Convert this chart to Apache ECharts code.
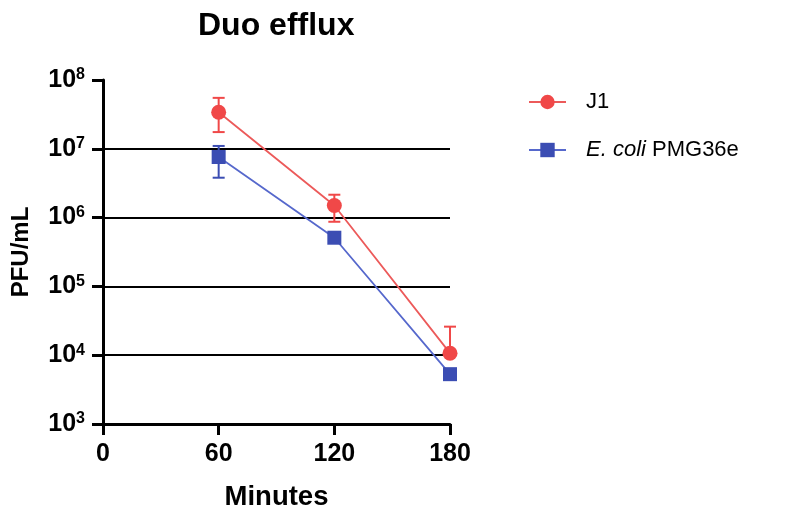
<!DOCTYPE html>
<html>
<head>
<meta charset="utf-8">
<script src="https://cdn.jsdelivr.net/npm/echarts@6/dist/echarts.min.js"></script>
<style>html,body{margin:0;padding:0;background:#fff}#c{width:793px;height:516px}</style>
</head>
<body>
<div id="c"></div>
<script>
const minutes = [60, 120, 180];
const xTicks = [0, 60, 120, 180];
const yExponents = [3, 4, 5, 6, 7, 8];
const seriesNames = ['J1', 'E. coli PMG36e'];
const j1Mean = [3.4e7, 1.5e6, 1.07e4];
const j1Low = [1.75e7, 8.7e5, 1.07e4];
const j1High = [5.5e7, 2.15e6, 2.6e4];
const ecoliMean = [7.6e6, 5.1e5, 5.3e3];
const ecoliLow = [3.8e6, 4.6e5, 5.0e3];
const ecoliHigh = [1.1e7, 5.6e5, 5.6e3];

const FONT = '"Liberation Sans", Arial, sans-serif';
const RED = '#f04848', RED_LINE = '#ec5a5a';
const BLUE = '#3b4db3', BLUE_LINE = '#5668cc';

function pairs(xs, ys) { return xs.map((x, i) => [x, ys[i]]); }
function triples(xs, lo, hi) { return xs.map((x, i) => [x, lo[i], hi[i]]); }

function errRender(color) {
  return function (params, api) {
    const x = api.value(0), lo = api.value(1), hi = api.value(2);
    const pLo = api.coord([x, lo]);
    const pHi = api.coord([x, hi]);
    const hw = 6;
    const style = { stroke: color, lineWidth: 2 };
    return {
      type: 'group',
      children: [
        { type: 'line', shape: { x1: pLo[0], y1: pLo[1], x2: pHi[0], y2: pHi[1] }, style: style },
        { type: 'line', shape: { x1: pHi[0] - hw, y1: pHi[1], x2: pHi[0] + hw, y2: pHi[1] }, style: style },
        { type: 'line', shape: { x1: pLo[0] - hw, y1: pLo[1], x2: pLo[0] + hw, y2: pLo[1] }, style: style }
      ]
    };
  };
}

const chart = echarts.init(document.getElementById('c'), null, { renderer: 'canvas' });
chart.setOption({
  animation: false,
  textStyle: { fontFamily: FONT },
  title: {
    text: 'Duo efflux', left: 193, top: 5,
    textStyle: { fontFamily: FONT, fontSize: 32, fontWeight: 'bold', color: '#000' }
  },
  legend: {
    orient: 'vertical', left: 528, top: 89, padding: 0, itemWidth: 37, itemHeight: 18, itemGap: 22,
    data: seriesNames,
    formatter: function (n) { return n === 'J1' ? 'J1' : '{i|E. coli} PMG36e'; },
    textStyle: {
      fontFamily: FONT, fontSize: 22, color: '#000', lineHeight: 26, padding: [0, 0, 0, 15],
      rich: { i: { fontFamily: FONT, fontSize: 22, fontStyle: 'italic', color: '#000' } }
    }
  },
  grid: { left: 103, right: 343, top: 80, bottom: 91, containLabel: false },
  xAxis: {
    type: 'value', min: 0, max: 180, interval: 60,
    name: 'Minutes', nameLocation: 'middle', nameGap: 59,
    nameTextStyle: { fontFamily: FONT, fontSize: 27.5, fontWeight: 'bold', color: '#000' },
    axisLine: { lineStyle: { color: '#000', width: 3 } },
    axisTick: { show: true, length: 11, lineStyle: { color: '#000', width: 3 } },
    axisLabel: {
      margin: 18, fontFamily: FONT, fontSize: 25, fontWeight: 'bold', color: '#000',
      formatter: function (v) { return xTicks.indexOf(v) >= 0 ? String(v) : ''; }
    },
    splitLine: { show: false }
  },
  yAxis: {
    type: 'log', logBase: 10, min: Math.pow(10, yExponents[0]), max: Math.pow(10, yExponents[yExponents.length - 1]),
    name: 'PFU/mL', nameLocation: 'middle', nameGap: 70,
    nameTextStyle: { fontFamily: FONT, fontSize: 24, fontWeight: 'bold', color: '#000' },
    axisLine: { show: true, lineStyle: { color: '#000', width: 3 } },
    axisTick: { show: true, length: 11, lineStyle: { color: '#000', width: 3 } },
    axisLabel: {
      margin: 18,
      formatter: function (v) { return '{b|10}{s|' + Math.round(Math.log10(v)) + '}'; },
      rich: {
        b: { fontFamily: FONT, fontSize: 25, fontWeight: 'bold', color: '#000', lineHeight: 26 },
        s: { fontFamily: FONT, fontSize: 16, fontWeight: 'bold', color: '#000', verticalAlign: 'top', lineHeight: 16 }
      }
    },
    splitLine: { show: true, showMinLine: false, showMaxLine: false, lineStyle: { color: '#000', width: 2 } }
  },
  series: [
    {
      name: seriesNames[0] + '_err', type: 'custom', renderItem: errRender(RED), z: 2,
      data: triples(minutes, j1Low, j1High), silent: true
    },
    {
      name: seriesNames[1] + '_err', type: 'custom', renderItem: errRender(BLUE), z: 2,
      data: triples(minutes, ecoliLow, ecoliHigh), silent: true
    },
    {
      name: seriesNames[0], type: 'line', data: pairs(minutes, j1Mean), z: 4,
      symbol: 'circle', symbolSize: 15,
      lineStyle: { color: RED_LINE, width: 1.8 }, itemStyle: { color: RED }
    },
    {
      name: seriesNames[1], type: 'line', data: pairs(minutes, ecoliMean), z: 3,
      symbol: 'rect', symbolSize: 14,
      lineStyle: { color: BLUE_LINE, width: 1.8 }, itemStyle: { color: BLUE }
    }
  ]
});
</script>
</body>
</html>
